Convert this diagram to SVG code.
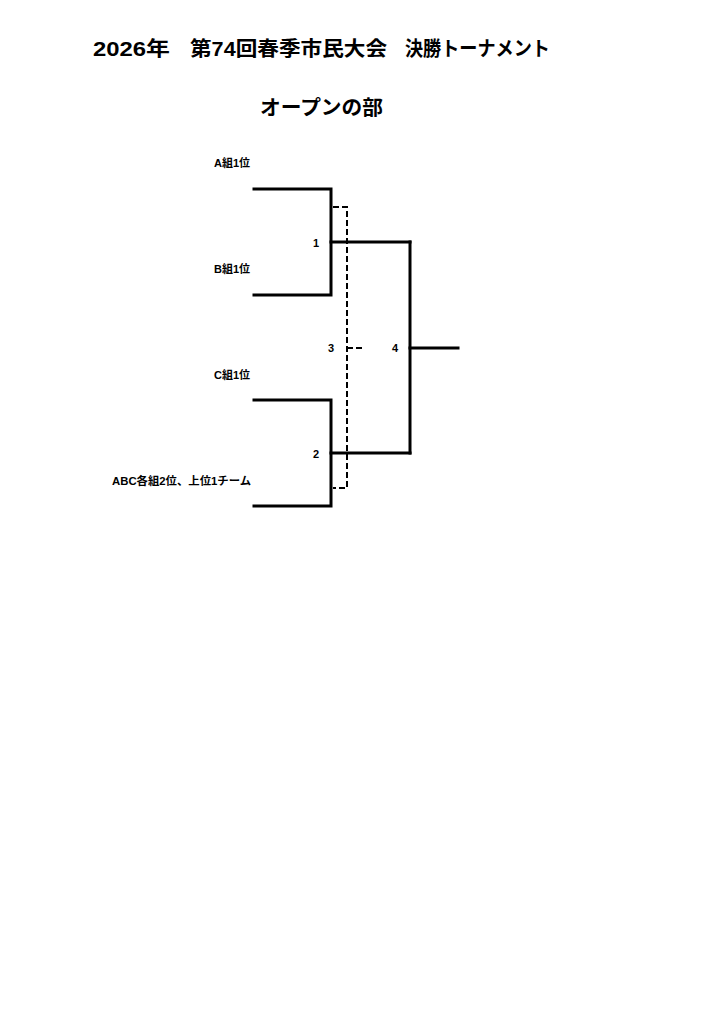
<svg xmlns="http://www.w3.org/2000/svg" width="724" height="1024" viewBox="0 0 724 1024">
<style>
.t{font-family:"Liberation Sans","Noto Sans CJK JP",sans-serif;font-weight:bold;fill:#000}
.h{font-size:20px}
.s{font-size:11px}
.n{font-size:11px}
.k{fill:none;stroke:#000;stroke-width:3;stroke-linecap:square}
.d{fill:none;stroke:#000;stroke-width:2;stroke-dasharray:6 3}
</style>
<rect width="724" height="1024" fill="#fff"/>
<g id="title">
<text class="t h" x="93" y="56" textLength="77" lengthAdjust="spacingAndGlyphs">2026年</text>
<text class="t h" x="190" y="56" textLength="197" lengthAdjust="spacingAndGlyphs">第74回春季市民大会</text>
<text class="t h" x="405" y="56" textLength="145" lengthAdjust="spacingAndGlyphs">決勝トーナメント</text>
</g>
<g id="subtitle">
<text class="t h" x="260" y="115" textLength="123" lengthAdjust="spacingAndGlyphs">オープンの部</text>
</g>
<g id="team-a"><text class="t s" x="250" y="167" text-anchor="end">A組1位</text></g>
<g id="team-b"><text class="t s" x="250" y="273" text-anchor="end">B組1位</text></g>
<g id="team-c"><text class="t s" x="250" y="379" text-anchor="end">C組1位</text></g>
<g id="team-abc"><text class="t s" x="251" y="485" text-anchor="end" textLength="139" lengthAdjust="spacingAndGlyphs">ABC各組2位、上位1チーム</text></g>
<g id="match-1"><text class="t n" x="316" y="247" text-anchor="middle">1</text></g>
<g id="match-2"><text class="t n" x="316" y="458" text-anchor="middle">2</text></g>
<g id="match-3"><text class="t n" x="331" y="352" text-anchor="middle">3</text></g>
<g id="match-4"><text class="t n" x="395" y="352" text-anchor="middle">4</text></g>
<g id="connectors">
<polyline class="k" points="254,189 331,189 331,295 254,295"/>
<polyline class="k" points="254,400 331,400 331,506 254,506"/>
<line class="k" x1="331" y1="242" x2="410" y2="242"/>
<line class="k" x1="331" y1="453" x2="410" y2="453"/>
<line class="k" x1="410" y1="242" x2="410" y2="453"/>
<line class="k" x1="410" y1="348" x2="458" y2="348"/>
<polyline class="d" points="333,207 347,207 347,488 333,488"/>
<line class="d" x1="347" y1="348" x2="364" y2="348"/>
</g>
</svg>
